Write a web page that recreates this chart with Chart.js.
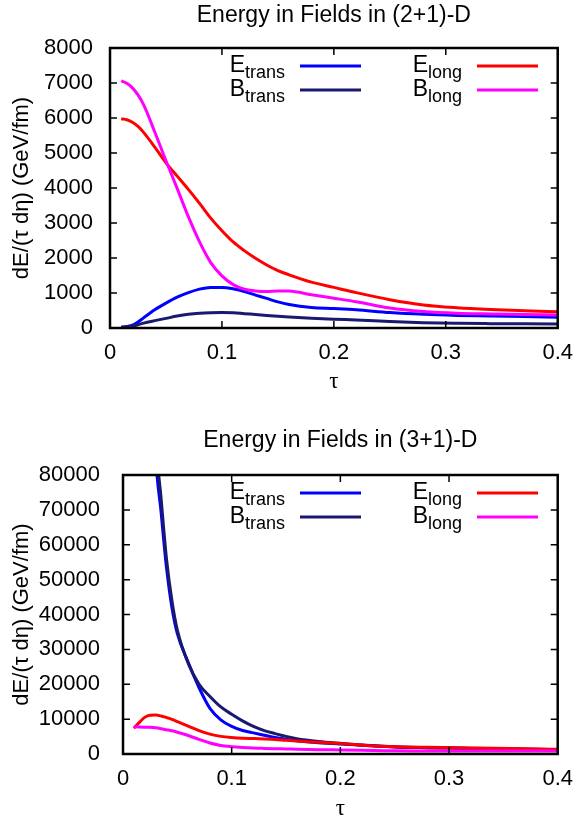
<!DOCTYPE html>
<html>
<head>
<meta charset="utf-8">
<script src="https://cdn.jsdelivr.net/npm/chart.js@4.4.1/dist/chart.umd.min.js"></script>
<style>
  body { margin: 0; background: #fff; }
  canvas { display: block; }
</style>
</head>
<body>
<canvas id="chart2d" width="585" height="414"></canvas>
<canvas id="chart3d" width="585" height="414"></canvas>
<script>
// (2+1)-D
const tau2d = [0.01, 0.015, 0.02, 0.025, 0.03, 0.04, 0.05, 0.06, 0.07, 0.08, 0.09, 0.10, 0.11, 0.12, 0.13,
  0.14, 0.15, 0.16, 0.18, 0.20, 0.22, 0.25, 0.28, 0.31, 0.34, 0.37, 0.40];
const eTrans2d = [20, 45, 80, 170, 290, 520, 710, 880, 1010, 1110, 1160, 1160, 1120, 1040, 940,
  845, 745, 670, 585, 555, 520, 440, 390, 360, 343, 325, 305];
const bTrans2d = [20, 35, 60, 95, 140, 210, 275, 340, 390, 420, 435, 440, 435, 410, 385,
  360, 335, 315, 280, 250, 230, 185, 150, 133, 124, 118, 114];
const eLong2d = [5980, 5950, 5880, 5760, 5590, 5170, 4720, 4340, 3960, 3560, 3140, 2780, 2460, 2210, 1990,
  1800, 1640, 1520, 1310, 1160, 1010, 810, 660, 580, 530, 495, 465];
const bLong2d = [7060, 6990, 6860, 6660, 6380, 5600, 4780, 3990, 3180, 2460, 1870, 1490, 1240, 1110, 1060,
  1040, 1060, 1055, 950, 850, 750, 570, 470, 420, 400, 385, 370];

// (3+1)-D
const tau3d = [0.01, 0.02, 0.025, 0.03, 0.035, 0.04, 0.045, 0.05, 0.06, 0.07, 0.08, 0.09, 0.10,
  0.11, 0.12, 0.13, 0.14, 0.15, 0.16, 0.18, 0.20, 0.22, 0.25, 0.28, 0.31, 0.34, 0.37, 0.40];
const eTrans3d = [800000, 205000, 130000, 86000, 69500, 53500, 42000, 34500, 26300, 19000, 13100, 9800, 7900,
  6750, 6050, 5400, 4750, 4200, 3800, 3250, 2850, 2500, 2000, 1800, 1650, 1500, 1380, 1250];
const bTrans3d = [850000, 215000, 138000, 92000, 73500, 56000, 44000, 35500, 26000, 20000, 16500, 13500, 11400,
  9500, 7900, 6700, 5850, 5050, 4400, 3600, 3050, 2550, 2050, 1820, 1660, 1500, 1380, 1250];
const eLong3d = [7400, 10500, 11100, 11150, 10900, 10450, 9950, 9300, 8000, 6700, 5700, 5050, 4700,
  4490, 4420, 4330, 4190, 3920, 3700, 3350, 3040, 2540, 2080, 1900, 1800, 1630, 1500, 1350];
const bLong3d = [7800, 7700, 7650, 7500, 7250, 6950, 6650, 6250, 5300, 4200, 3150, 2450, 2100,
  1870, 1700, 1600, 1520, 1450, 1370, 1250, 1150, 1050, 900, 880, 870, 870, 860, 860];

const labelMain = ["E", "B", "E", "B"];
const labelSub = ["trans", "trans", "long", "long"];
const lineColors = ["#0000ff", "#191970", "#ff0000", "#ff00ff"];

const sans = "'Liberation Sans', Arial, sans-serif";
const serif = "'Liberation Serif', 'DejaVu Serif', serif";

// gnuplot-like title, frame, inward ticks and key
const gnuplotLook = {
  id: "gnuplotLook",
  afterDatasetsDraw(chart, args, opts) {
    const { ctx, chartArea: a, scales } = chart;
    ctx.save();

    ctx.fillStyle = "#000";
    ctx.font = "23px " + sans;
    ctx.textAlign = "center";
    ctx.textBaseline = "middle";
    ctx.fillText(opts.title, (a.left + a.right) / 2, opts.titleY);

    ctx.strokeStyle = "#000";
    ctx.lineWidth = 1.5;
    ctx.beginPath();
    scales.x.ticks.forEach((t) => {
      const px = scales.x.getPixelForValue(t.value);
      ctx.moveTo(px, a.bottom);
      ctx.lineTo(px, a.bottom - 7);
      ctx.moveTo(px, a.top);
      ctx.lineTo(px, a.top + 7);
    });
    scales.y.ticks.forEach((t) => {
      const py = scales.y.getPixelForValue(t.value);
      ctx.moveTo(a.left, py);
      ctx.lineTo(a.left + 7, py);
      ctx.moveTo(a.right, py);
      ctx.lineTo(a.right - 7, py);
    });
    ctx.stroke();
    ctx.lineWidth = 2.5;
    ctx.strokeRect(a.left, a.top, a.width, a.height);

    // key: two columns, two rows
    const textRight = [285, 285, 462, 462];
    const lineStart = [300, 300, 477, 477];
    const rowY = [a.top + 18, a.top + 42, a.top + 18, a.top + 42];
    chart.data.datasets.forEach((ds, i) => {
      const y = rowY[i];
      ctx.font = "18px " + sans;
      const subW = ctx.measureText(labelSub[i]).width;
      ctx.fillStyle = "#000";
      ctx.textAlign = "right";
      ctx.textBaseline = "alphabetic";
      ctx.fillText(labelSub[i], textRight[i], y + 12);
      ctx.font = "23px " + sans;
      ctx.fillText(labelMain[i], textRight[i] - subW, y + 6);
      ctx.strokeStyle = ds.borderColor;
      ctx.lineWidth = 3;
      ctx.beginPath();
      ctx.moveTo(lineStart[i], y);
      ctx.lineTo(lineStart[i] + 61, y);
      ctx.stroke();
    });
    ctx.restore();
  },
};

function makeChart(id, title, tau, series, yMax, yStep, opts) {
  const datasets = series.map((vals, i) => ({
    label: labelMain[i] + labelSub[i],
    data: tau.map((t, k) => ({ x: t, y: vals[k] })),
    borderColor: lineColors[i],
    borderWidth: 3,
    pointRadius: 0,
    cubicInterpolationMode: "monotone",
    order: 4 - i,
  }));

  return new Chart(document.getElementById(id), {
    type: "line",
    data: { datasets: datasets },
    options: {
      responsive: false,
      animation: false,
      layout: { padding: { left: 0, right: 19, top: opts.top, bottom: 0 } },
      plugins: {
        legend: { display: false },
        tooltip: { enabled: false },
        title: { display: false },
        gnuplotLook: { title: title, titleY: opts.titleY },
      },
      scales: {
        x: {
          type: "linear",
          min: 0,
          max: 0.4,
          grid: { display: false, drawTicks: false },
          border: { display: false },
          ticks: {
            stepSize: 0.1,
            padding: 12,
            color: "#000",
            maxRotation: 0,
            font: { family: sans, size: 22 },
            callback: (v) => String(Number(v.toFixed(1))),
          },
          title: {
            display: true,
            text: "τ",
            color: "#000",
            font: { family: serif, size: 23 },
            padding: { top: 0, bottom: opts.xTitlePad },
          },
          afterFit: (s) => { s.height = opts.xHeight; },
        },
        y: {
          min: 0,
          max: yMax,
          grid: { display: false, drawTicks: false },
          border: { display: false },
          ticks: {
            stepSize: yStep,
            padding: opts.yTickPad,
            color: "#000",
            font: { family: sans, size: 22 },
            callback: (v) => String(v),
          },
          title: {
            display: true,
            text: "dE/(τ dη) (GeV/fm)",
            color: "#000",
            font: { family: sans, size: 22 },
            padding: { top: 9, bottom: 0 },
          },
          afterFit: (s) => { s.width = opts.yWidth; },
        },
      },
    },
    plugins: [gnuplotLook],
  });
}

makeChart("chart2d", "Energy in Fields in (2+1)-D",
  tau2d, [eTrans2d, bTrans2d, eLong2d, bLong2d], 8000, 1000,
  { top: 48, titleY: 16, xHeight: 86, xTitlePad: 18, yWidth: 110, yTickPad: 17 });

makeChart("chart3d", "Energy in Fields in (3+1)-D",
  tau3d, [eTrans3d, bTrans3d, eLong3d, bLong3d], 80000, 10000,
  { top: 61, titleY: 27, xHeight: 74, xTitlePad: 5, yWidth: 123, yTickPad: 23 });
</script>
</body>
</html>
